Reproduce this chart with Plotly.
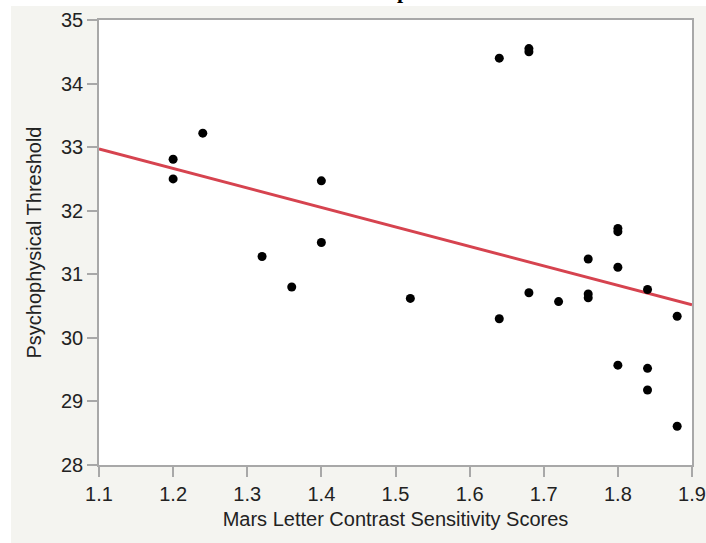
import plotly.graph_objects as go

# Data
mars_scores = [1.2, 1.2, 1.24, 1.32, 1.36, 1.4, 1.4, 1.52, 1.64, 1.64, 1.68, 1.68, 1.68,
               1.72, 1.76, 1.76, 1.76, 1.8, 1.8, 1.8, 1.8, 1.84, 1.84, 1.84, 1.88, 1.88]
thresholds = [32.81, 32.50, 33.22, 31.28, 30.80, 32.47, 31.50, 30.62, 34.40, 30.30, 34.55, 34.50, 30.71,
              30.57, 31.24, 30.69, 30.63, 31.72, 31.67, 31.11, 29.57, 30.76, 29.52, 29.18, 30.34, 28.61]
fit_x = [1.1, 1.9]
fit_y = [32.97, 30.52]

x_ticks = [1.1, 1.2, 1.3, 1.4, 1.5, 1.6, 1.7, 1.8, 1.9]
y_ticks = [28, 29, 30, 31, 32, 33, 34, 35]

W, H = 706, 543
ML, MR, MT, MB = 99, 14, 20, 78
PW, PH = W - ML - MR, H - MT - MB

def px_x(p):
    return (p - ML) / PW

def px_y(p):
    return 1 - (p - MT) / PH

fig = go.Figure()
fig.add_trace(go.Scatter(x=fit_x, y=fit_y, mode="lines",
                         line=dict(color="#d6434f", width=3), hoverinfo="skip"))
fig.add_trace(go.Scatter(x=mars_scores, y=thresholds, mode="markers",
                         marker=dict(color="black", size=9)))

axis_common = dict(showgrid=False, zeroline=False, showline=True, mirror=True,
                   linecolor="#a8a8a8", linewidth=1.5, ticks="outside",
                   ticklen=10, tickwidth=1.5, tickcolor="#a8a8a8",
                   tickfont=dict(family="Liberation Sans", size=20, color="#222222"))

fig.update_xaxes(range=[1.1, 1.9], tickvals=x_ticks, ticktext=[f"{v:.1f}" for v in x_ticks],
                 title=dict(text="Mars Letter Contrast Sensitivity Scores",
                            font=dict(family="Liberation Sans", size=20, color="#222222"),
                            standoff=8),
                 **axis_common)
fig.update_yaxes(range=[28, 35], tickvals=y_ticks, ticktext=[str(v) for v in y_ticks],
                 title=dict(text="Psychophysical Threshold",
                            font=dict(family="Liberation Sans", size=20, color="#222222"),
                            standoff=14),
                 **axis_common)

fig.update_layout(
    width=W, height=H,
    margin=dict(l=ML, r=MR, t=MT, b=MB, autoexpand=False),
    paper_bgcolor="#f4f4f0",
    plot_bgcolor="white",
    showlegend=False,
    shapes=[
        dict(type="rect", xref="paper", yref="paper", x0=px_x(-5), x1=px_x(W + 5),
             y0=px_y(6), y1=px_y(-10), fillcolor="white", line=dict(width=0), layer="below"),
        dict(type="rect", xref="paper", yref="paper", x0=px_x(-5), x1=px_x(11),
             y0=px_y(H + 10), y1=px_y(-10), fillcolor="white", line=dict(width=0), layer="below"),
    ],
    annotations=[
        dict(text="<b>p</b>", xref="paper", yref="paper", x=px_x(403), y=px_y(-9),
             xanchor="center", yanchor="middle", showarrow=False,
             font=dict(family="Liberation Serif", size=22, color="black")),
    ],
)

fig.write_html("out.html")
